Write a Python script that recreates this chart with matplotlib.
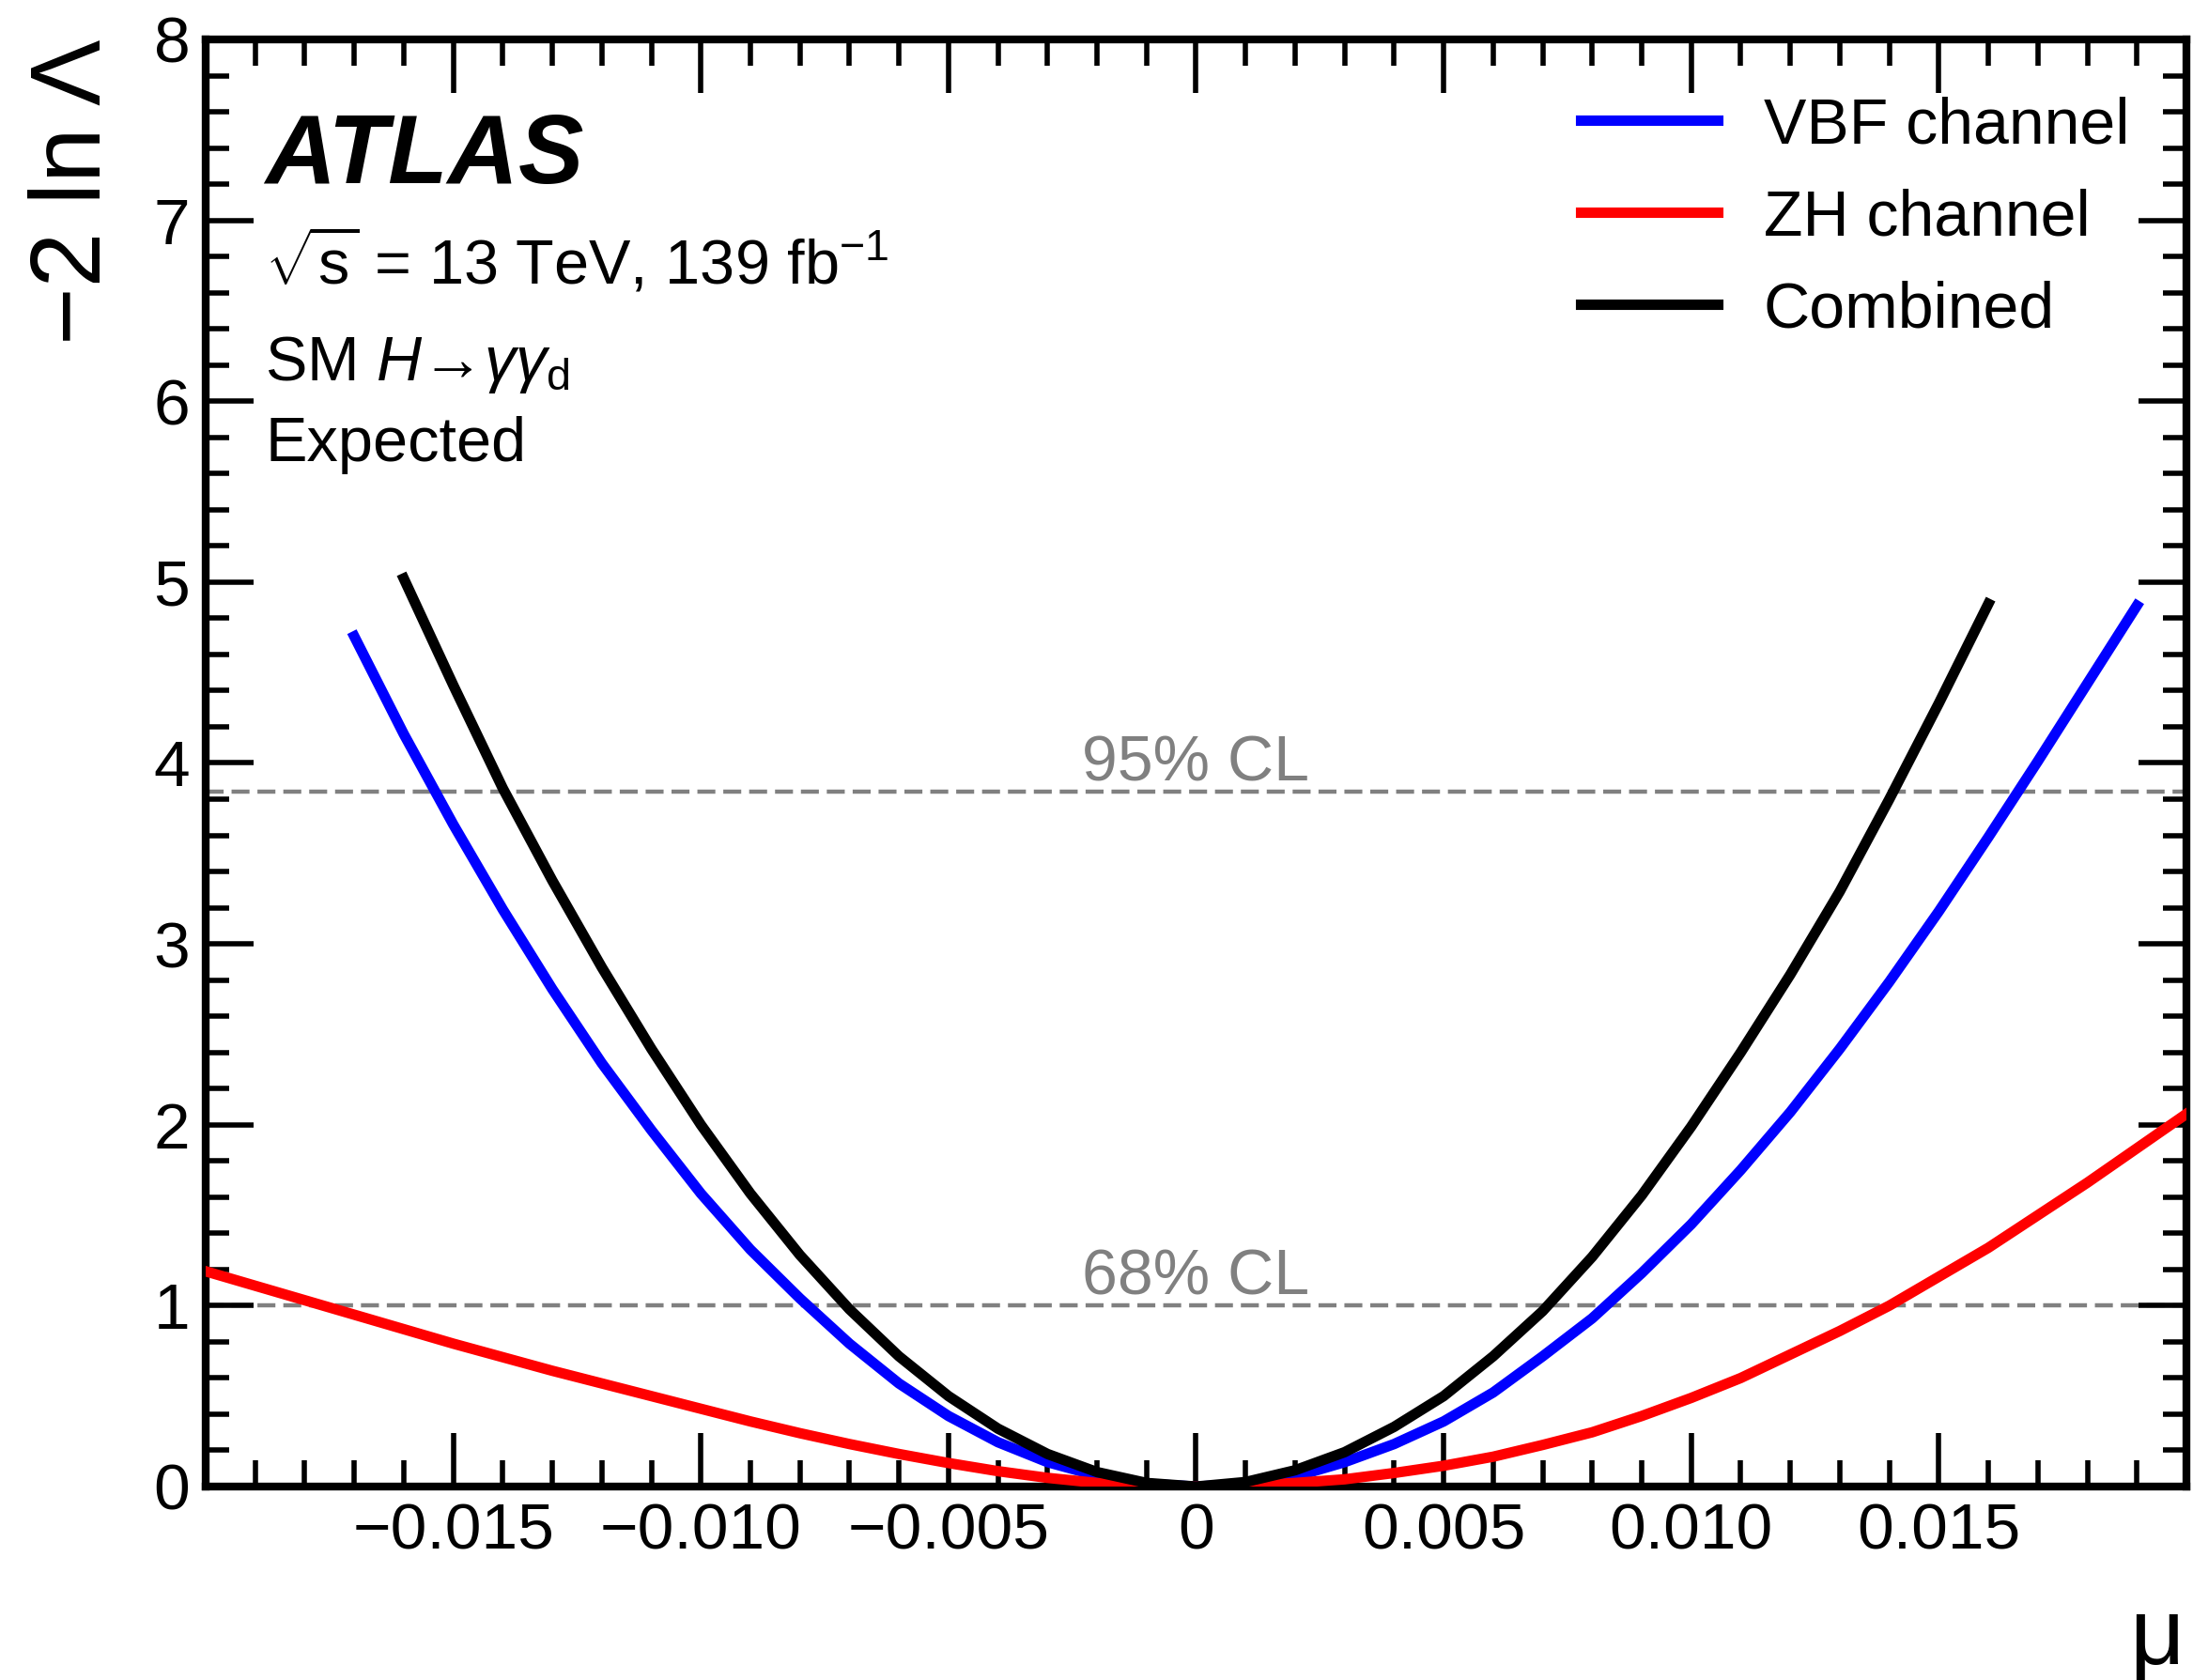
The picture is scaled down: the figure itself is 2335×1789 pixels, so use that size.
import matplotlib
matplotlib.use("Agg")
import matplotlib.pyplot as plt
import numpy as np
from matplotlib.ticker import FixedLocator, MultipleLocator

plt.rcParams['font.family'] = ['Liberation Sans', 'DejaVu Sans']
plt.rcParams['mathtext.fontset'] = 'custom'
plt.rcParams['mathtext.rm'] = 'Liberation Sans'
plt.rcParams['mathtext.it'] = 'Liberation Sans:italic'
plt.rcParams['mathtext.bf'] = 'Liberation Sans:bold'

# mu values in units of 1e-3
mu_vbf = [-17, -16, -15, -14, -13, -12, -11, -10, -9, -8, -7, -6, -5, -4, -3, -2, -1, 0,
          1, 2, 3, 4, 5, 6, 7, 8, 9, 10, 11, 12, 13, 14, 15, 16, 17, 18, 19]
nll_vbf = [4.70, 4.16, 3.66, 3.19, 2.75, 2.34, 1.97, 1.62, 1.31, 1.04, 0.79, 0.57, 0.39,
           0.245, 0.135, 0.06, 0.015, 0.0,
           0.015, 0.055, 0.135, 0.235, 0.36, 0.52, 0.72, 0.93, 1.18, 1.45, 1.75, 2.07,
           2.42, 2.79, 3.18, 3.59, 4.01, 4.44, 4.87]

mu_zh = [-20, -19, -18, -17, -16, -15, -14, -13, -12, -11, -10, -9, -8, -7, -6, -5, -4, -3,
         -2, -1, 0, 1, 2, 3, 4, 5, 6, 7, 8, 9, 10, 11, 12, 13, 14, 15, 16, 17, 18, 19, 20]
nll_zh = [1.19, 1.11, 1.03, 0.95, 0.87, 0.79, 0.715, 0.64, 0.57, 0.50, 0.43, 0.36, 0.295,
          0.235, 0.18, 0.13, 0.085, 0.048, 0.02, 0.005, 0.0,
          0.005, 0.02, 0.04, 0.075, 0.115, 0.165, 0.23, 0.30, 0.39, 0.49, 0.60, 0.73,
          0.86, 1.00, 1.16, 1.32, 1.50, 1.68, 1.87, 2.06]

mu_comb = [-16, -15, -14, -13, -12, -11, -10, -9, -8, -7, -6, -5, -4, -3, -2, -1, 0,
           1, 2, 3, 4, 5, 6, 7, 8, 9, 10, 11, 12, 13, 14, 15, 16]
nll_comb = [5.02, 4.43, 3.86, 3.35, 2.87, 2.42, 2.00, 1.62, 1.28, 0.98, 0.72, 0.50, 0.32,
            0.18, 0.08, 0.02, 0.0,
            0.025, 0.09, 0.19, 0.33, 0.50, 0.72, 0.97, 1.27, 1.61, 1.99, 2.40, 2.83,
            3.29, 3.80, 4.33, 4.88]

cl_levels = [1.0, 3.84]
cl_labels = ['68% CL', '95% CL']

xticks = [-0.015, -0.010, -0.005, 0.0, 0.005, 0.010, 0.015]
xtick_labels = ['\u22120.015', '\u22120.010', '\u22120.005', '0', '0.005', '0.010', '0.015']

gray = '#808080'

fig = plt.figure(figsize=(23.35, 17.89), dpi=100)
ax = fig.add_axes([0.09379, 0.11515, 0.90321, 0.86138])

for lvl, lab in zip(cl_levels, cl_labels):
    ax.axhline(lvl, color=gray, lw=3.2, ls=(0, (4.3, 1.9)), zorder=1)
    ax.text(0.0, lvl + 0.06, lab, color=gray, fontsize=49, ha='center', va='baseline')

ax.plot(np.array(mu_vbf) * 1e-3, nll_vbf, color='#0000ff', lw=8, label='VBF channel', zorder=3)
ax.plot(np.array(mu_zh) * 1e-3, nll_zh, color='#ff0000', lw=8, label='ZH channel', zorder=3)
ax.plot(np.array(mu_comb) * 1e-3, nll_comb, color='black', lw=8, label='Combined', zorder=4)

ax.set_xlim(-0.02, 0.02)
ax.set_ylim(0, 8)
ax.xaxis.set_major_locator(FixedLocator(xticks))
ax.set_xticklabels(xtick_labels)
ax.xaxis.set_minor_locator(MultipleLocator(0.001))
ax.yaxis.set_major_locator(MultipleLocator(1))
ax.yaxis.set_minor_locator(MultipleLocator(0.2))

ax.tick_params(which='both', direction='in', top=True, right=True, width=4)
ax.tick_params(axis='x', which='major', length=41, labelsize=50, pad=12)
ax.tick_params(axis='x', which='minor', length=20)
ax.tick_params(axis='y', which='major', length=37, labelsize=50, pad=12)
ax.tick_params(axis='y', which='minor', length=18)
for sp in ax.spines.values():
    sp.set_linewidth(6)

ax.legend(loc='upper left', bbox_to_anchor=(0.694, 0.961), frameon=False, fontsize=49,
          handlelength=2.15, handletextpad=0.72, labelspacing=0.5, borderpad=0,
          borderaxespad=0)

ax.text(0.030, 0.9007, 'ATLAS', fontsize=75, fontweight='bold', fontstyle='italic',
        transform=ax.transAxes, va='baseline')
ax.text(0.030, 0.8313, r'$\sqrt{\mathrm{s}}$ = 13 TeV, 139 fb$^{-1}$', fontsize=48,
        transform=ax.transAxes, va='baseline')
ax.text(0.030, 0.7644, 'SM $H$\u2192$\\gamma\\gamma_{\\mathrm{d}}$', fontsize=48,
        transform=ax.transAxes, va='baseline')
ax.text(0.030, 0.7086, 'Expected', fontsize=48, transform=ax.transAxes, va='baseline')

ax.text(-0.066, 1.0, '\u22122 ln \u039b', rotation=90, ha='center', va='top', fontsize=76,
        transform=ax.transAxes)
ax.text(0.999, -0.1226, '\u03bc', ha='right', va='baseline', fontsize=73,
        transform=ax.transAxes)

fig.savefig('out.png', dpi=100)
